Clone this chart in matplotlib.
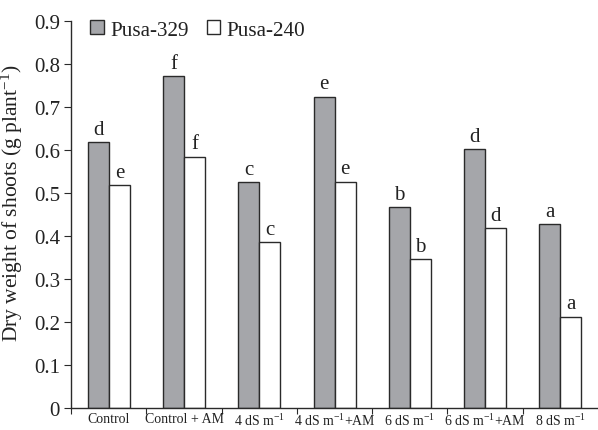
import matplotlib
matplotlib.use("Agg")
import matplotlib.pyplot as plt
import numpy as np
from matplotlib.patches import Patch

categories = ["Control", "Control + AM", "4 dS m$^{-1}$", "4 dS m$^{-1}$+AM",
              "6 dS m$^{-1}$", "6 dS m$^{-1}$+AM", "8 dS m$^{-1}$"]
pusa_329 = [0.618, 0.771, 0.524, 0.723, 0.467, 0.601, 0.427]
pusa_240 = [0.517, 0.584, 0.385, 0.526, 0.346, 0.417, 0.212]
letters_329 = ["d", "f", "c", "e", "b", "d", "a"]
letters_240 = ["e", "f", "c", "e", "b", "d", "a"]
yticks = [0, 0.1, 0.2, 0.3, 0.4, 0.5, 0.6, 0.7, 0.8, 0.9]

plt.rcParams["font.family"] = ["Liberation Serif", "DejaVu Serif"]
plt.rcParams["mathtext.fontset"] = "custom"
plt.rcParams["mathtext.rm"] = "Liberation Serif"
plt.rcParams["mathtext.it"] = "Liberation Serif:italic"

fig = plt.figure(figsize=(5.98, 4.31), dpi=100)
ax = fig.add_axes([0.119, 0.051, 0.881, 0.899])

x = np.arange(len(categories))
w = 0.28
gray = "#a5a6aa"
edge = "#2a2a2a"
text_color = "#222222"
ax.bar(x - w / 2, pusa_329, width=w, color=gray, edgecolor=edge, linewidth=1.0)
ax.bar(x + w / 2, pusa_240, width=w, color="white", edgecolor=edge, linewidth=1.0)

for i in range(len(categories)):
    ax.text(x[i] - w / 2, pusa_329[i] + 0.008, letters_329[i], ha="center",
            va="bottom", fontsize=15, color=text_color)
    ax.text(x[i] + w / 2, pusa_240[i] + 0.008, letters_240[i], ha="center",
            va="bottom", fontsize=15, color=text_color)

ax.set_xlim(-0.5, len(categories) - 0.5)
ax.set_ylim(0, 0.9)
ax.set_yticks(yticks)
ax.set_yticklabels(["0" if v == 0 else f"{v:.1f}" for v in yticks],
                   fontsize=15, color=text_color)
ax.set_xticks(x - 0.5, minor=False)
ax.set_xticklabels([])
ax.set_xticks(x, minor=True)
ax.set_xticklabels(categories, minor=True, fontsize=10, color=text_color)
ax.tick_params(axis="x", which="minor", length=0, pad=3)
ax.tick_params(axis="x", which="major", length=4, direction="out", color=edge)
ax.tick_params(axis="y", length=5, direction="out", color=edge, pad=3)

for s in ["top", "right"]:
    ax.spines[s].set_visible(False)
for s in ["left", "bottom"]:
    ax.spines[s].set_color(edge)
    ax.spines[s].set_linewidth(1.0)

ax.set_ylabel("Dry weight of shoots (g plant$^{-1}$)", fontsize=15.5,
              color=text_color)
ax.yaxis.set_label_coords(-0.088, 0.53)

handles = [Patch(facecolor=gray, edgecolor=edge, label="Pusa-329"),
           Patch(facecolor="white", edgecolor=edge, label="Pusa-240")]
ax.legend(handles=handles, loc="upper left", bbox_to_anchor=(0.0, 1.05),
          ncol=2, frameon=False, fontsize=15.2, handlelength=0.65,
          handleheight=0.65, handletextpad=0.3, columnspacing=0.85,
          labelcolor=text_color)

fig.savefig("out.png", dpi=100)
